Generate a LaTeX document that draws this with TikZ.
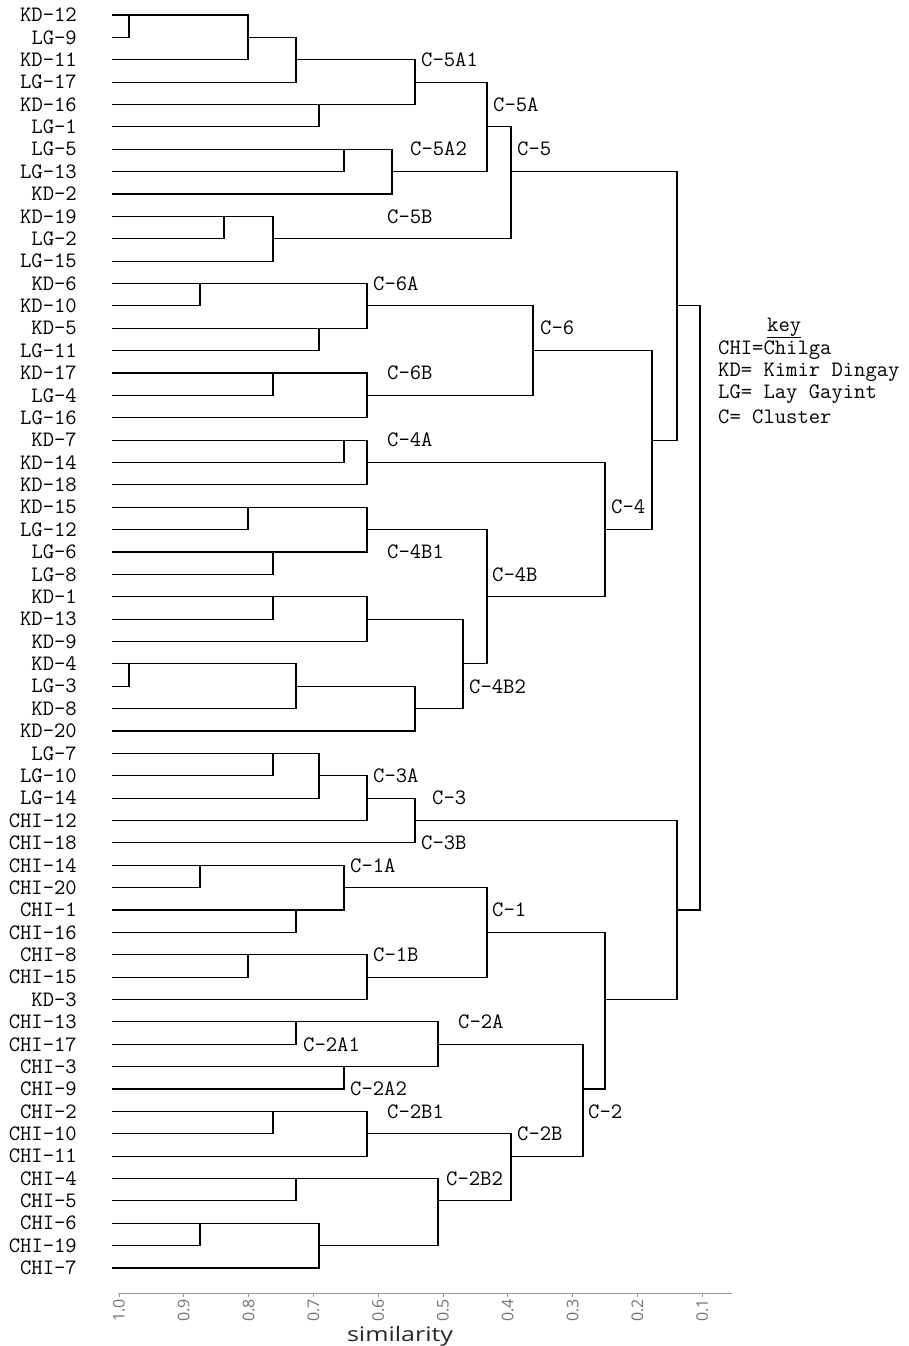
\documentclass[tikz,border=0pt]{standalone}
\usepackage{fontspec}
\newfontfamily\axisfont{Open Sans}
\newcommand{\labfont}{\ttfamily\fontsize{22}{22}\selectfont}

\begin{document}
\begin{tikzpicture}[x=1pt,y=-1pt]
\tikzstyle{leaf}=[anchor=east,inner xsep=35pt,inner ysep=0pt,font=\labfont]
\tikzstyle{branch}=[draw=black,line width=1.1pt]
\tikzstyle{clabel}=[anchor=west,inner sep=0pt,font=\labfont]
\tikzstyle{axis}=[draw=gray!80,line width=1pt]
\tikzstyle{ticklab}=[rotate=90,anchor=east,inner sep=1.5pt,text=black!55,font=\axisfont\fontsize{16}{16}\selectfont]
\useasboundingbox (0,0) rectangle (909,1346);

% leaves, top to bottom
\foreach \n/\t [count=\r from 0] in {KD12/KD-12, LG9/LG-9, KD11/KD-11, LG17/LG-17,
    KD16/KD-16, LG1/LG-1, LG5/LG-5, LG13/LG-13, KD2/KD-2, KD19/KD-19, LG2/LG-2,
    LG15/LG-15, KD6/KD-6, KD10/KD-10, KD5/KD-5, LG11/LG-11, KD17/KD-17, LG4/LG-4,
    LG16/LG-16, KD7/KD-7, KD14/KD-14, KD18/KD-18, KD15/KD-15, LG12/LG-12, LG6/LG-6,
    LG8/LG-8, KD1/KD-1, KD13/KD-13, KD9/KD-9, KD4/KD-4, LG3/LG-3, KD8/KD-8,
    KD20/KD-20, LG7/LG-7, LG10/LG-10, LG14/LG-14, CHI12/CHI-12, CHI18/CHI-18,
    CHI14/CHI-14, CHI20/CHI-20, CHI1/CHI-1, CHI16/CHI-16, CHI8/CHI-8, CHI15/CHI-15,
    KD3/KD-3, CHI13/CHI-13, CHI17/CHI-17, CHI3/CHI-3, CHI9/CHI-9, CHI2/CHI-2,
    CHI10/CHI-10, CHI11/CHI-11, CHI4/CHI-4, CHI5/CHI-5, CHI6/CHI-6, CHI19/CHI-19,
    CHI7/CHI-7}
  \node[leaf] (\n) at (112,{15+\r*22.375}) {\t};

% joins: name / upper / lower / x / row
\foreach \m/\a/\b/\x/\r in {N1/KD12/LG9/129/0, N2/N1/KD11/248/1, N3/N2/LG17/296/2,
    N4/KD16/LG1/319/4, C5A1/N3/N4/415/3, N5/LG5/LG13/344/6, C5A2/N5/KD2/392/7,
    C5A/C5A1/C5A2/487/5, N6/KD19/LG2/224/9, C5B/N6/LG15/273/10, C5/C5A/C5B/511/7,
    N7/KD6/KD10/200/12, N8/KD5/LG11/319/14, C6A/N7/N8/367/13, N9/KD17/LG4/273/16,
    C6B/N9/LG16/367/17, C6/C6A/C6B/533/15, N10/KD7/KD14/344/19, C4A/N10/KD18/367/20,
    N11/KD15/LG12/248/22, N12/LG6/LG8/273/24, C4B1/N11/N12/367/23, N13/KD1/KD13/273/26,
    N14/N13/KD9/367/27, N15/KD4/LG3/129/29, N16/N15/KD8/296/30, N17/N16/KD20/415/31,
    C4B2/N14/N17/463/29, C4B/C4B1/C4B2/487/26, C4/C4A/C4B/605/23, N18/C6/C4/652/19,
    N19/C5/N18/677/13, N20/LG7/LG10/273/33, N21/N20/LG14/319/34, C3A/N21/CHI12/367/35,
    C3/C3A/CHI18/415/36, N22/CHI14/CHI20/200/38, N23/CHI1/CHI16/296/40,
    C1A/N22/N23/344/39, N24/CHI8/CHI15/248/42, C1B/N24/KD3/367/43, C1/C1A/C1B/487/41,
    C2A1/CHI13/CHI17/296/45, C2A2/CHI3/CHI9/344/47, C2A/C2A1/C2A2/438/46,
    N25/CHI2/CHI10/273/49, C2B1/N25/CHI11/367/50, N26/CHI4/CHI5/296/52,
    N27/CHI6/CHI19/200/54, N28/N27/CHI7/319/55, C2B2/N26/N28/438/53,
    C2B/C2B1/C2B2/511/51, C2/C2A/C2B/583/48, N29/C1/C2/605/44, N30/C3/N29/677/40,
    N31/N19/N30/700/26}
{
  \coordinate (\m) at (\x,{15+\r*22.375});
  \draw[branch] (\a) -- (\a -| \m) -- (\b -| \m) -- (\b);
}

% cluster names
\foreach \t/\x/\r [count=\i] in {C-5A1/421/2, C-5A/493/4, C-5A2/410/6, C-5/517/6,
    C-5B/387/9, C-6A/373/12, C-6/540/14, C-6B/387/16, C-4A/387/19, C-4B1/387/24,
    C-4B/492/25, C-4B2/469/30, C-4/611/22, C-3A/373/34, C-3/432/35, C-3B/421/37,
    C-1A/350/38, C-1/492/40, C-1B/373/42, C-2A/458/45, C-2A1/303/46, C-2A2/350/48,
    C-2B1/387/49, C-2B/517/50, C-2/588/49, C-2B2/446/52}
  \node[clabel] (cl\i) at (\x,{15+\r*22.375}) {\t};

% key
\node[clabel] (key) at (767,328) {\underline{key}};
\node[clabel] (kCHI) at (718,350) {CHI=Chilga};
\node[clabel] (kKD) at (718,372) {KD= Kimir Dingay};
\node[clabel] (kLG) at (718,394) {LG= Lay Gayint};
\node[clabel] (kC) at (718,417) {C= Cluster};

% similarity axis
\draw[axis] (118,1293) -- (732,1293);
\foreach \s [count=\i] in {1.0,0.9,0.8,0.7,0.6,0.5,0.4,0.3,0.2,0.1}
  \draw[axis] ({119+(1-\s)*648},1293) -- ++(0,4) node[ticklab] (t\i) {\s};
\node[font=\axisfont\fontsize{20}{20}\selectfont,text=black!85,xscale=1.25] (simlab) at (400,1336) {similarity};
\end{tikzpicture}
\end{document}
